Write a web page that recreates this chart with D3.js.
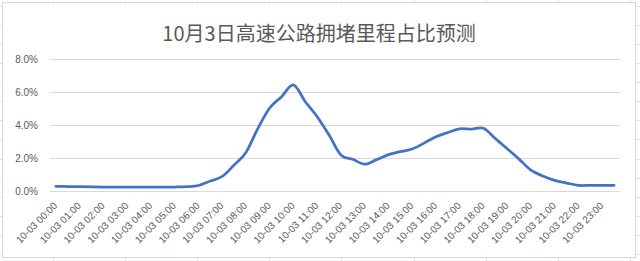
<!DOCTYPE html>
<html><head><meta charset="utf-8">
<script src="https://cdn.jsdelivr.net/npm/d3@7"></script>
<style>
html,body{margin:0;padding:0;background:#fff;}
svg{display:block;}
</style></head>
<body>
<svg id="c" width="640" height="261"></svg>
<script>
const title = "10月3日高速公路拥堵里程占比预测";
const categories = [
"10-03 00:00","10-03 00:30","10-03 01:00","10-03 01:30","10-03 02:00","10-03 02:30",
"10-03 03:00","10-03 03:30","10-03 04:00","10-03 04:30","10-03 05:00","10-03 05:30",
"10-03 06:00","10-03 06:30","10-03 07:00","10-03 07:30","10-03 08:00","10-03 08:30",
"10-03 09:00","10-03 09:30","10-03 10:00","10-03 10:30","10-03 11:00","10-03 11:30",
"10-03 12:00","10-03 12:30","10-03 13:00","10-03 13:30","10-03 14:00","10-03 14:30",
"10-03 15:00","10-03 15:30","10-03 16:00","10-03 16:30","10-03 17:00","10-03 17:30",
"10-03 18:00","10-03 18:30","10-03 19:00","10-03 19:30","10-03 20:00","10-03 20:30",
"10-03 21:00","10-03 21:30","10-03 22:00","10-03 22:30","10-03 23:00","10-03 23:30"];
const values = [
0.30,0.29,0.28,0.27,0.26,0.26,
0.25,0.25,0.25,0.25,0.26,0.28,
0.35,0.62,0.90,1.59,2.35,3.80,
5.05,5.73,6.45,5.43,4.52,3.41,
2.20,1.94,1.64,1.92,2.22,2.40,
2.56,2.92,3.31,3.56,3.79,3.77,
3.82,3.20,2.58,1.95,1.28,0.93,
0.66,0.50,0.36,0.36,0.36,0.36];
const tickLabels = [
"10-03 00:00","10-03 01:00","10-03 02:00","10-03 03:00","10-03 04:00","10-03 05:00",
"10-03 06:00","10-03 07:00","10-03 08:00","10-03 09:00","10-03 10:00","10-03 11:00",
"10-03 12:00","10-03 13:00","10-03 14:00","10-03 15:00","10-03 16:00","10-03 17:00",
"10-03 18:00","10-03 19:00","10-03 20:00","10-03 21:00","10-03 22:00","10-03 23:00"];
const yTicks = [0,2,4,6,8];

const svg = d3.select("#c");
const W = 640, H = 261;

// spreadsheet grid behind chart
const sheet = svg.append("g");
d3.range(53, W, 72.1).forEach(xx => sheet.append("line").attr("x1",Math.round(xx)+0.5).attr("x2",Math.round(xx)+0.5).attr("y1",0).attr("y2",H).attr("stroke","#e1e1e1"));
d3.range(5.7, H, 19.1).forEach(yy => sheet.append("line").attr("y1",Math.round(yy)+0.5).attr("y2",Math.round(yy)+0.5).attr("x1",0).attr("x2",W).attr("stroke","#e1e1e1"));

// chart area
svg.append("rect").attr("x",2.5).attr("y",2.5).attr("width",633).attr("height",255)
  .attr("fill","#fff").attr("stroke","#d9d9d9");

const pLeft = 50, pRight = 620, pTop = 59.3, pBottom = 191.3;
const x = d3.scaleBand().domain(categories).range([pLeft, pRight]);
const y = d3.scaleLinear().domain([0, 8]).range([pBottom, pTop]);
const cx = d => x(d) + x.bandwidth()/2;

// title
svg.append("text").attr("x", 319).attr("y", 41).attr("text-anchor","middle")
  .attr("font-family","'Noto Sans CJK SC', sans-serif").attr("font-size",20)
  .attr("fill","#595959").text(title);

// gridlines
svg.append("g").selectAll("line").data(yTicks).join("line")
  .attr("x1",pLeft).attr("x2",pRight)
  .attr("y1",d=>Math.round(y(d))+0.5).attr("y2",d=>Math.round(y(d))+0.5)
  .attr("stroke","#d9d9d9").attr("stroke-width",1);

// y axis labels
const ya = svg.append("g").attr("transform",`translate(${pLeft-12},0)`)
  .call(d3.axisLeft(y).tickValues(yTicks).tickSize(0).tickPadding(0).tickFormat(d=>d3.format(".1f")(d)+"%"));
ya.select(".domain").remove();
ya.selectAll("text").attr("font-family","'Liberation Sans', Arial, sans-serif").attr("font-size",10).attr("fill","#595959");

// x axis labels
const xa = svg.append("g").attr("transform",`translate(0,${pBottom})`)
  .call(d3.axisBottom(x).tickValues(tickLabels).tickSize(0).tickPadding(0));
xa.select(".domain").remove();
xa.selectAll("text")
  .attr("font-family","'Liberation Sans', Arial, sans-serif").attr("font-size",10).attr("fill","#595959")
  .attr("text-anchor","end").attr("dy",0).attr("y",0)
  .attr("transform","translate(2,15) rotate(-45)");

// line
const line = d3.line().x((d,i)=>cx(categories[i])).y(d=>y(d)).curve(d3.curveCatmullRom.alpha(0));
svg.append("path").datum(values).attr("d",line).attr("fill","none")
  .attr("stroke","#4472C4").attr("stroke-width",2.75).attr("stroke-linejoin","round").attr("stroke-linecap","round");
</script>
</body></html>
